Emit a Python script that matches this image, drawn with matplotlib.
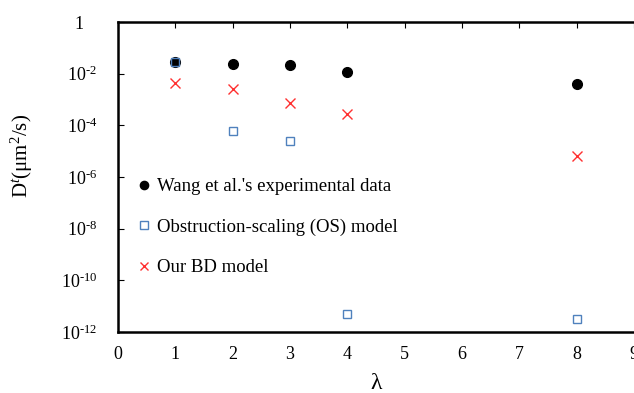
import matplotlib.pyplot as plt
import matplotlib as mat
from matplotlib.transforms import ScaledTranslation

mat.rc('font', family=['Liberation Serif', 'DejaVu Serif'])
mat.rc('mathtext', fontset='custom', rm='Liberation Serif', it='Liberation Serif:italic')

# data
lam = [1, 2, 3, 4, 8]
wang = [0.028, 0.023, 0.021, 0.0115, 0.004]
os_model = [0.028, 6e-5, 2.4e-5, 4.8e-12, 3.2e-12]
bd_model = [0.0044, 0.0025, 7.3e-4, 2.7e-4, 6.4e-6]

yticks = [1, 1e-2, 1e-4, 1e-6, 1e-8, 1e-10, 1e-12]
ytick_labels = ['1'] + ['10$^{\\text{-}%d}$' % k for k in (2, 4, 6, 8, 10, 12)]

fig = plt.figure(figsize=(6.34, 3.93), dpi=100)
ax = fig.add_axes([0.186, 0.155, 0.814, 0.789])

ax.plot(lam, wang, 'o', color='black', markersize=7, label="Wang et al.'s experimental data")
ax.plot(lam, os_model, 's', mfc='none', mec='#4F81BD', markersize=6, mew=1.0,
        label='Obstruction-scaling (OS) model')
ax.plot(lam, bd_model, 'x', color='#FF3030', markersize=6.5, mew=1.0, label='Our BD model')

ax.set_yscale('log')
ax.set_ylim(1e-12, 1)
ax.set_xlim(0, 9)
ax.set_yticks(yticks)
ax.set_yticklabels(ytick_labels)
ax.minorticks_off()
ax.set_xticks(range(10))

ax.tick_params(axis='x', which='both', bottom=False, top=True, direction='in', length=4,
               labelsize=13, pad=10)
ax.tick_params(axis='y', which='both', left=True, direction='in', length=4,
               labelsize=13, pad=15)
for s in ['left', 'bottom', 'top']:
    ax.spines[s].set_linewidth(1.8)
ax.spines['right'].set_visible(False)

# the plain "1" sits under the base of the powers, not flush right
lab1 = ax.get_yticklabels()[0]
lab1.set_transform(lab1.get_transform() + ScaledTranslation(-0.14, 0, fig.dpi_scale_trans))

ax.set_xlabel('λ', fontsize=17, va='center')
ax.xaxis.set_label_coords(0.5, -0.165)
ax.set_ylabel('D$^{t}$(μm$^{2}$/s)', fontsize=15, va='center')
ax.yaxis.set_label_coords(-0.186, 0.568)

ax.legend(loc='lower left', bbox_to_anchor=(0.0, 0.137), frameon=False, fontsize=13.5,
          handletextpad=0.0, handlelength=1.4, labelspacing=1.25, borderaxespad=0.3,
          markerscale=0.85)

fig.savefig('out.png', dpi=100)
